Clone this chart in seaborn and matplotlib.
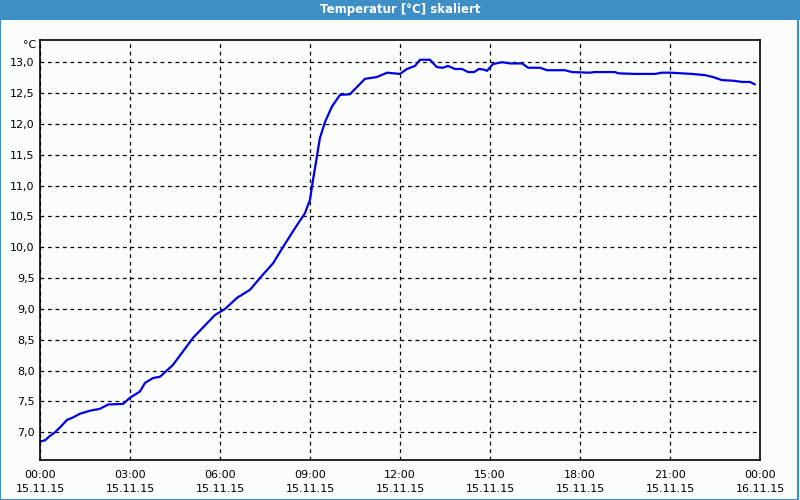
import matplotlib
matplotlib.use("Agg")
import matplotlib.pyplot as plt
import matplotlib.ticker as mticker
from matplotlib.patches import Rectangle
import seaborn as sns
import pandas as pd

# ---- data ----
hours = [0.0, 0.17, 0.33, 0.5, 0.67, 0.9, 1.1, 1.33, 1.67, 2.0, 2.27, 2.77, 3.0,
         3.33, 3.5, 3.77, 4.0, 4.43, 5.1, 5.83, 6.17, 6.57, 7.0, 7.33, 7.77, 8.07,
         8.5, 8.83, 9.0, 9.1, 9.23, 9.33, 9.5, 9.73, 10.0, 10.33, 10.57, 10.83,
         11.23, 11.57, 12.0, 12.23, 12.5, 12.67, 13.0, 13.23, 13.43, 13.6, 13.83,
         14.07, 14.27, 14.47, 14.63, 14.8, 14.9, 15.1, 15.4, 15.67, 16.07, 16.27,
         16.67, 16.9, 17.5, 17.73, 18.33, 18.5, 19.17, 19.27, 19.83, 20.5, 20.73,
         21.0, 21.73, 22.17, 22.43, 22.73, 23.1, 23.4, 23.67, 23.83]
temps = [6.85, 6.87, 6.94, 7.00, 7.08, 7.20, 7.24, 7.30, 7.35, 7.38, 7.45, 7.46, 7.56,
         7.66, 7.80, 7.88, 7.90, 8.09, 8.53, 8.90, 9.00, 9.18, 9.31, 9.50, 9.74, 9.98,
         10.31, 10.55, 10.77, 11.09, 11.47, 11.77, 12.03, 12.28, 12.47, 12.48, 12.60, 12.73,
         12.76, 12.83, 12.81, 12.89, 12.94, 13.04, 13.04, 12.92, 12.91, 12.94, 12.89,
         12.89, 12.84, 12.84, 12.89, 12.88, 12.86, 12.97, 13.00, 12.98, 12.98, 12.91,
         12.91, 12.87, 12.87, 12.84, 12.83, 12.84, 12.84, 12.82, 12.81, 12.81, 12.83,
         12.83, 12.81, 12.79, 12.76, 12.71, 12.70, 12.68, 12.68, 12.64]
tick_hours = [0, 3, 6, 9, 12, 15, 18, 21, 24]
tick_labels = ["00:00\n15.11.15", "03:00\n15.11.15", "06:00\n15.11.15",
               "09:00\n15.11.15", "12:00\n15.11.15", "15:00\n15.11.15",
               "18:00\n15.11.15", "21:00\n15.11.15", "00:00\n16.11.15"]
title = "Temperatur [°C] skaliert"
unit = "°C"

df = pd.DataFrame({"h": hours, "t": temps})

sns.set_style("white")
plt.rcParams['font.family'] = ['DejaVu Sans']
plt.rcParams['text.color'] = 'black'

bg = "#fbfdfc"
blue_bar = "#3d8fc6"
fig = plt.figure(figsize=(8, 5), dpi=100, facecolor=bg)

# title bar and frame
fig.patches.append(Rectangle((0, 0.96), 1, 0.04, transform=fig.transFigure,
                             facecolor=blue_bar, edgecolor="none", zorder=0))
fig.patches.append(Rectangle((0.0006, 0.001), 0.9975, 0.996, transform=fig.transFigure,
                             facecolor="none", edgecolor=blue_bar, linewidth=1.5, zorder=0))
fig.text(0.5, 0.98, title, color="white", fontsize=8.5, fontweight="bold",
         ha="center", va="center")

ax = fig.add_axes([0.05, 0.08, 0.90, 0.84])
ax.set_facecolor(bg)
sns.lineplot(data=df, x="h", y="t", ax=ax, color="#0000e6", linewidth=1.6)

ax.set_xlim(0, 24)
ax.set_ylim(6.55, 13.36)
ax.set_xticks(tick_hours)
ax.set_xticklabels(tick_labels, fontsize=8, linespacing=1.55)
ax.xaxis.set_minor_locator(mticker.MultipleLocator(1))
ax.set_yticks([7.0 + 0.5 * i for i in range(13)])
ax.yaxis.set_major_formatter(mticker.FuncFormatter(lambda v, p: f"{v:.1f}".replace(".", ",")))
ax.tick_params(axis="y", length=0, labelsize=8, pad=4, labelcolor="black")
ax.tick_params(axis="x", which="major", length=4, width=1, direction="out", pad=3,
               colors="black", labelcolor="black")
ax.tick_params(axis="x", which="minor", length=3, width=1, direction="out", colors="black")
ax.set_xlabel("")
ax.set_ylabel("")

ax.grid(True, which="major", color="black", linestyle=(0, (3, 3)), linewidth=0.9)
for s in ax.spines.values():
    s.set_color("black")
    s.set_linewidth(1.2)

ax.text(-0.005, 1.0, unit, transform=ax.transAxes, ha="right", va="top", fontsize=8,
        color="black")

fig.savefig("out.png", dpi=100, facecolor=bg)
